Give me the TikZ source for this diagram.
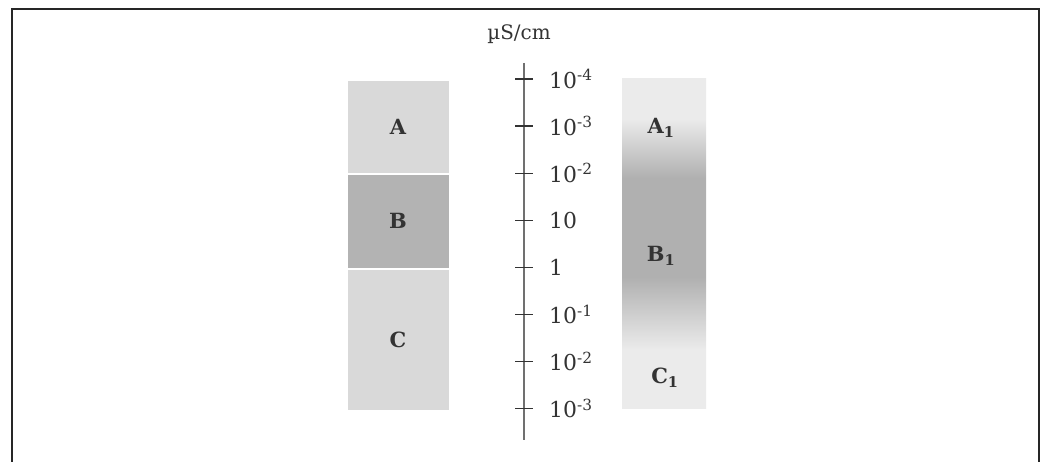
\documentclass[tikz,border=0pt]{standalone}
\usepackage{fontspec}
\setmainfont{DejaVu Serif}
\usepackage{tikz}
\usetikzlibrary{positioning}
\definecolor{zoneLight}{RGB}{217,217,217}
\definecolor{zoneDark}{RGB}{179,179,179}
\definecolor{fadeLight}{RGB}{235,235,235}
\definecolor{fadeDark}{RGB}{176,176,176}
\definecolor{inkGray}{RGB}{51,51,51}
\definecolor{axisGray}{RGB}{112,112,112}
\pgfdeclareverticalshading{conductfade}{100bp}{%
  color(0bp)=(fadeLight); color(34bp)=(fadeLight); color(45bp)=(fadeDark);
  color(60bp)=(fadeDark); color(69bp)=(fadeLight); color(100bp)=(fadeLight)}

\begin{document}
\begin{tikzpicture}[x=1bp, y=-1bp,
            zone/.style={rectangle, inner sep=0pt, minimum width=102bp, draw=white, line width=0.8bp, font=\fontsize{21}{21}\selectfont\bfseries, text=inkGray},
            tick/.style={inkGray, line width=1.3bp},
            scalelabel/.style={anchor=west, inner sep=0pt, font=\fontsize{22}{22}\selectfont, text=inkGray},
            fadelabel/.style={inner sep=0pt, font=\fontsize{21}{21}\selectfont\bfseries, text=inkGray}
        ]
            \useasboundingbox (0,0) rectangle (1045,462);
            % frame
            \draw[line width=2.4bp, black!85] (12,462) -- (12,9) -- (1039,9) -- (1039,462);

            % left zones
            \node (zoneA) [zone, fill=zoneLight, minimum height=93bp, anchor=north] at (398,80) {A};
            \node (zoneB) [zone, fill=zoneDark, minimum height=94bp, below=0bp of zoneA] {B};
            \node (zoneC) [zone, fill=zoneLight, minimum height=141bp, below=0bp of zoneB] {C};

            % scale
            \coordinate (axTop) at (524,63);
            \coordinate (axBot) at (524,440);
            \draw[axisGray, line width=1.6bp] (axTop) -- (axBot);
            \node (unit) [inner sep=0pt, font=\fontsize{20}{20}\selectfont, text=inkGray] at (519,34) {µS/cm};
            \foreach \lbl [count=\i from 0] in {10\textsuperscript{-4}, 10\textsuperscript{-3}, 10\textsuperscript{-2}, 10, 1, 10\textsuperscript{-1}, 10\textsuperscript{-2}, 10\textsuperscript{-3}} {
                \coordinate (t\i) at (524,79+47.1*\i);
                \draw[tick] ([xshift=-9bp]t\i) -- ([xshift=9bp]t\i);
                \node (val\i) [scalelabel] at ([xshift=25bp]t\i) {\lbl};
            }

            % right fading column
            \shade[shading=conductfade] (622,79) rectangle (706,409);
            \node (fadeA) [fadelabel] at (661,128) {A\textsubscript{1}};
            \node (fadeB) [fadelabel] at (661,256) {B\textsubscript{1}};
            \node (fadeC) [fadelabel] at (665,378) {C\textsubscript{1}};
        \end{tikzpicture}
\end{document}
